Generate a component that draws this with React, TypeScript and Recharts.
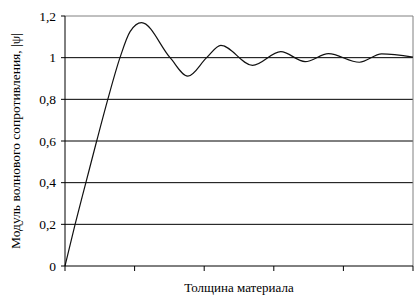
import React from 'react';
import { LineChart, Line, XAxis, YAxis, ReferenceLine } from 'recharts';

const xValues = [0, 2.9, 6.0, 9.1, 12.3, 15.8, 18.7, 22.0, 30.2, 35.3, 40.7, 44.8, 53.9, 62.0, 69.0, 75.7, 84.6, 91.0, 100];
const yValues = [0, 0.2, 0.4, 0.6, 0.8, 1.0, 1.125, 1.168, 1.0, 0.911, 1.0, 1.059, 0.963, 1.029, 0.981, 1.019, 0.978, 1.018, 1.003];
const xTicks = [0, 20, 40, 60, 80, 100];
const yTicks = [0, 0.2, 0.4, 0.6, 0.8, 1.0, 1.2];
const gridValues = [0.2, 0.4, 0.6, 0.8, 1.0];
const yTitle = 'Модуль волнового сопротивления, |ψ|';
const xTitle = 'Толщина материала';

const data = xValues.map((x, i) => ({ x, y: yValues[i] }));
const FONT = '"Liberation Serif", "Times New Roman", serif';

const YLabel = (props: any) => {
  const vb = props.viewBox || { x: 0, y: 0, width: 0, height: 0 };
  const cx = vb.x + 15;
  const cy = vb.y + vb.height / 2;
  return (
    <text x={cx} y={cy} transform={`rotate(-90 ${cx} ${cy})`} textAnchor="middle" dominantBaseline="central"
      fontFamily={FONT} fontSize={13.5} fill="#000">{yTitle}</text>
  );
};

export default function App() {
  return (
    <div style={{ position: 'absolute', left: 0, top: 0 }}>
      <LineChart width={418} height={302} data={data} margin={{ top: 16, right: 5, bottom: 0, left: 0 }}>
        {gridValues.map((v) => (
          <ReferenceLine key={v} y={v} stroke="#000" strokeWidth={1} />
        ))}
        <ReferenceLine y={1.2} stroke="#808080" strokeWidth={1} />
        <ReferenceLine x={100} stroke="#808080" strokeWidth={1} />
        <XAxis dataKey="x" type="number" domain={[0, 100]} ticks={xTicks} stroke="#000"
          tickFormatter={() => ''} tickSize={5} height={36} axisLine={{ stroke: '#000' }} tickLine={{ stroke: '#000' }}
          label={{ value: xTitle, position: 'insideBottom', offset: 10, fontFamily: FONT, fontSize: 13, fill: '#000' }} />
        <YAxis type="number" domain={[0, 1.2]} ticks={yTicks} width={65} tickSize={4} tickMargin={5} stroke="#000"
          axisLine={{ stroke: '#000' }} tickLine={{ stroke: '#000' }}
          tickFormatter={(v: number) => String(Math.round(v * 10) / 10).replace('.', ',')}
          tick={{ fontFamily: FONT, fontSize: 13.5, fill: '#000' }}
          label={<YLabel />} />
        <Line type="monotone" dataKey="y" stroke="#111" strokeWidth={1.2} dot={false} isAnimationActive={false} />
      </LineChart>
    </div>
  );
}
